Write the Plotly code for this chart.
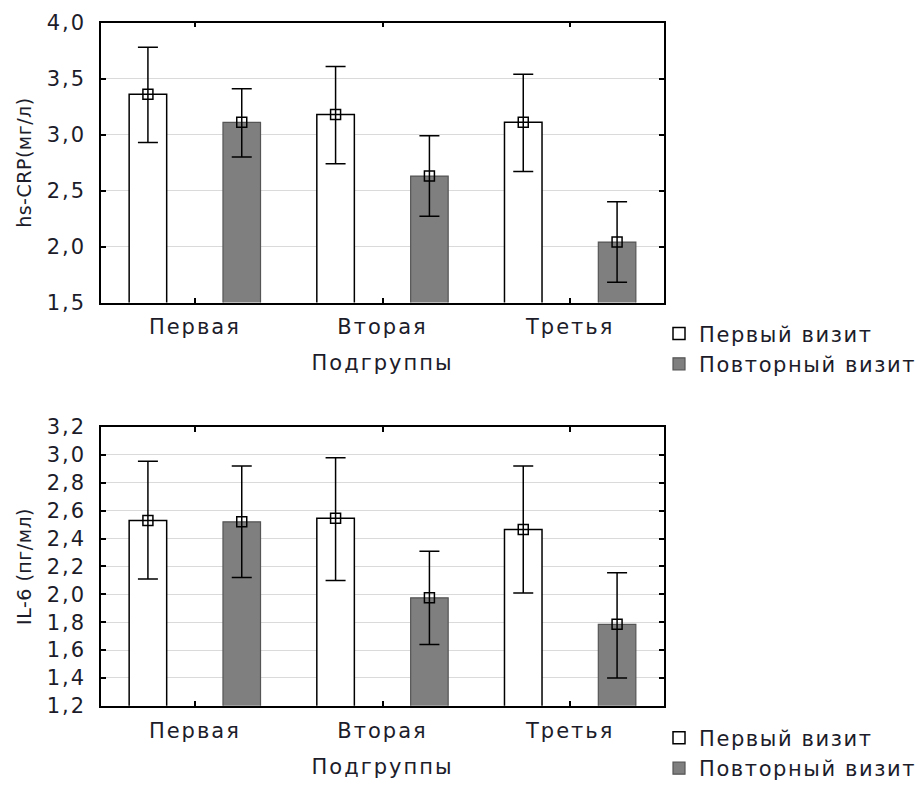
import plotly.graph_objects as go
import numpy as np

categories = ["Первая", "Вторая", "Третья"]
series_names = ["Первый визит", "Повторный визит"]

# hs-CRP (мг/л)
crp_first = [3.36, 3.18, 3.11]
crp_first_hi = [3.78, 3.61, 3.54]
crp_first_lo = [2.93, 2.74, 2.67]
crp_repeat = [3.11, 2.63, 2.04]
crp_repeat_hi = [3.41, 2.99, 2.40]
crp_repeat_lo = [2.80, 2.27, 1.68]
crp_ticks = [1.5, 2.0, 2.5, 3.0, 3.5, 4.0]
crp_tick_labels = ["1,5", "2,0", "2,5", "3,0", "3,5", "4,0"]

# IL-6 (пг/мл)
il6_first = [2.53, 2.545, 2.465]
il6_first_hi = [2.955, 2.98, 2.92]
il6_first_lo = [2.11, 2.10, 2.01]
il6_repeat = [2.52, 1.975, 1.785]
il6_repeat_hi = [2.92, 2.31, 2.155]
il6_repeat_lo = [2.12, 1.64, 1.40]
il6_ticks = [1.2, 1.4, 1.6, 1.8, 2.0, 2.2, 2.4, 2.6, 2.8, 3.0, 3.2]
il6_tick_labels = ["1,2", "1,4", "1,6", "1,8", "2,0", "2,2", "2,4", "2,6", "2,8", "3,0", "3,2"]

FONT = "DejaVu Sans"
TXT = "#1c1c2a"
FS = 21


def sp(s, ls=2):
    return f'<span style="letter-spacing:{ls}px">{s}</span>'


idx = np.arange(len(categories))
OFF = 0.25
BW = 0.2

fig = go.Figure()


def add_panel(xa, ya, legend, first, fhi, flo, rep, rhi, rlo):
    xref = "x" if xa == 1 else f"x{xa}"
    yref = "y" if ya == 1 else f"y{ya}"
    specs = [
        (series_names[0], first, fhi, flo, -OFF, "white", "black", 1.5, "g1"),
        (series_names[1], rep, rhi, rlo, OFF, "#7f7f7f", "#555555", 1.2, "g2"),
    ]
    for name, v, hi, lo, off, fill, line, lw, grp in specs:
        v = np.array(v); hi = np.array(hi); lo = np.array(lo)
        fig.add_trace(go.Bar(
            x=idx + off, y=v, width=BW, name=sp(name, 1.6),
            marker=dict(color=fill, line=dict(color=line, width=lw)),
            xaxis=xref, yaxis=yref, legend=legend, showlegend=True,
            legendgroup=f"{legend}{grp}",
        ))
        fig.add_trace(go.Scatter(
            x=idx + off, y=v, mode="markers",
            marker=dict(symbol="square-open", size=10, color="black", line=dict(width=1.5)),
            error_y=dict(type="data", symmetric=False, array=hi - v, arrayminus=v - lo,
                         color="black", thickness=1.5, width=10),
            xaxis=xref, yaxis=yref, showlegend=False,
        ))


add_panel(1, 1, "legend", crp_first, crp_first_hi, crp_first_lo,
          crp_repeat, crp_repeat_hi, crp_repeat_lo)
add_panel(2, 2, "legend2", il6_first, il6_first_hi, il6_first_lo,
          il6_repeat, il6_repeat_hi, il6_repeat_lo)

W, H = 922, 789
xdom = [101 / W, 664 / W]

common_x = dict(
    range=[-0.5, 2.5], tickvals=list(idx), ticktext=[sp(c) for c in categories],
    showgrid=False, zeroline=False, showline=True, linecolor="black", linewidth=1.5,
    mirror="ticks", ticks="inside", ticklen=5, tickcolor="black", tickwidth=1.5,
    tickfont=dict(family=FONT, size=FS, color=TXT), ticklabelstandoff=5,
    title=dict(text=sp("Подгруппы"), font=dict(family=FONT, size=FS, color=TXT), standoff=17),
    domain=xdom, automargin=False,
)
common_y = dict(
    showgrid=True, gridcolor="#dadada", gridwidth=1.2, zeroline=False,
    showline=True, linecolor="black", linewidth=1.5, mirror="ticks",
    ticks="inside", ticklen=5, tickcolor="black", tickwidth=1.5,
    tickfont=dict(family=FONT, size=FS, color=TXT),
    ticklabelstandoff=9, automargin=False,
)

fig.update_layout(
    autosize=True, margin=dict(l=0, r=0, t=0, b=0),
    paper_bgcolor="white", plot_bgcolor="white",
    barmode="overlay",
    xaxis=dict(**common_x, anchor="y"),
    xaxis2=dict(**common_x, anchor="y2"),
    yaxis=dict(**common_y, range=[1.5, 4.0], tickvals=crp_ticks,
               ticktext=[sp(t) for t in crp_tick_labels], anchor="x",
               domain=[1 - 306 / H, 1 - 23 / H],
               title=dict(text=sp("hs-CRP(мг/л)", 0.5), font=dict(family=FONT, size=19, color=TXT), standoff=10)),
    yaxis2=dict(**common_y, range=[1.2, 3.2], tickvals=il6_ticks,
                ticktext=[sp(t) for t in il6_tick_labels], anchor="x2",
                domain=[1 - 714 / H, 1 - 432 / H],
                title=dict(text=sp("IL-6 (пг/мл)", 0.5), font=dict(family=FONT, size=19, color=TXT), standoff=10)),
    legend=dict(x=659 / W, y=1 - 317 / H, xanchor="left", yanchor="top",
                font=dict(family=FONT, size=FS, color=TXT), bgcolor="rgba(0,0,0,0)",
                tracegroupgap=0, itemwidth=30, traceorder="grouped"),
    legend2=dict(x=659 / W, y=1 - 726 / H, xanchor="left", yanchor="top",
                 font=dict(family=FONT, size=FS, color=TXT), bgcolor="rgba(0,0,0,0)",
                 tracegroupgap=0, itemwidth=30, traceorder="grouped"),
)

fig.write_html(
    "out.html",
    config={"displayModeBar": False},
    default_width=f"{W}px",
    default_height="100vh",
    post_script=(
        "document.body.style.margin='0';"
        "var g=document.getElementById('{plot_id}');"
        "g.style.position='fixed';g.style.top='0';g.style.left='0';"
    ),
)
